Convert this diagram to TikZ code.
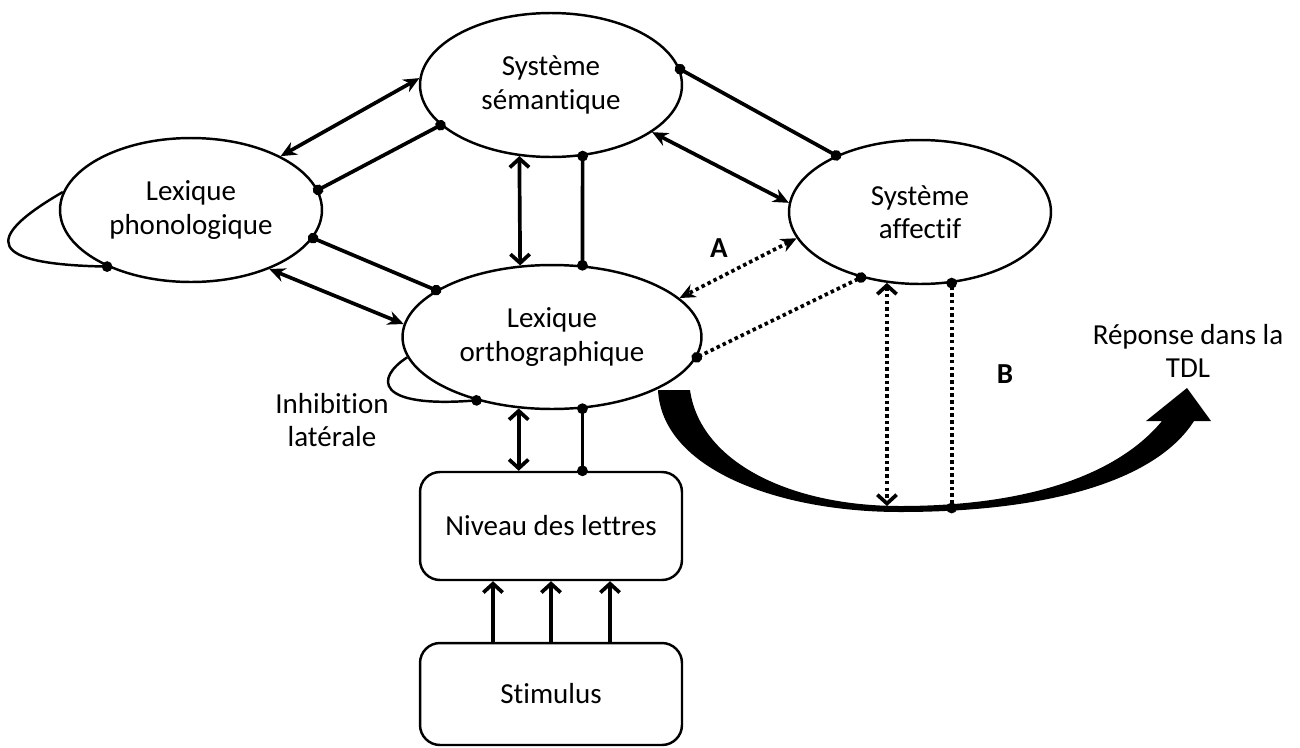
\documentclass[tikz,border=0pt]{standalone}
\usepackage{fontspec}
\setmainfont{Carlito}[Ligatures=NoCommon]
\usetikzlibrary{arrows.meta,shapes.geometric}
\tikzset{
  module/.style={ellipse,draw,line width=1.4pt,minimum width=5.24cm,minimum height=2.88cm,inner sep=0pt,align=center,font=\fontsize{16.5}{19}\selectfont},
  level/.style={rectangle,draw,rounded corners=0.4cm,line width=1.4pt,minimum width=5.24cm,align=center,font=\fontsize{16.5}{19}\selectfont},
  lab/.style={align=center,font=\fontsize{16.5}{19}\selectfont},
  excit/.style={line width=2.1pt,{Stealth[length=9pt,width=8pt]}-{Stealth[length=9pt,width=8pt]}},
  excitv/.style={line width=2.1pt,{Straight Barb[length=5pt,width=11pt]}-{Straight Barb[length=5pt,width=11pt]}},
  inhib/.style={line width=2.1pt,{Circle[length=6pt]}-{Circle[length=6pt]},shorten <=-3pt,shorten >=-3pt},
  loopinh/.style={line width=1.4pt,-{Circle[length=6pt]},shorten >=-3pt},
  dots/.style={dash pattern=on 2pt off 1.8pt}
}

\begin{document}
\begin{tikzpicture}[x=0.02cm,y=-0.02cm]
\useasboundingbox (0,0) rectangle (1300,747);
\node[module] (sem) at (551,85) {Système\\sémantique};
\node[module] (phono) at (191,210) {Lexique\\phonologique};
\node[module,minimum width=5.98cm] (ortho) at (552,337) {Lexique\\orthographique};
\node[module] (aff) at (920,212) {Système\\affectif};
\node[level,minimum height=2.16cm] (lettres) at (551,526) {Niveau des lettres};
\node[level,minimum height=2.04cm] (stim) at (551,694) {Stimulus};

\draw[excit] (phono.31.7) -- (sem.177);
\draw[inhib] (phono.9.75) -- (sem.200);
\draw[excit] (phono.323) -- (ortho.175.4);
\draw[inhib] (phono.347.1) -- (ortho.158.9);
\draw[excitv] (sem.246) -- (ortho.114.5);
\draw[inhib] (sem.294) -- (ortho.67);
\draw[excit] (sem.335) -- (aff.176);
\draw[inhib] (sem.7) -- (aff.146.3);
\draw[excit,dots] (aff.192.8) -- (ortho.17.6);
\draw[inhib,dots] (aff.228.3) -- (ortho.352.7);
\draw[excitv] (ortho.245.5) -- (ortho.245.5 |- lettres.north);
\draw[inhib] (ortho.293) -- (ortho.293 |- lettres.north);
\foreach \dx in {-58,0,59}
  \draw[line width=2.1pt,-{Straight Barb[length=5pt,width=11pt]}] ([xshift=\dx*0.02cm]stim.north) -- ([xshift=\dx*0.02cm]lettres.south);

\draw[loopinh] (phono.172.5) .. controls (-20,240) and (-10,264) .. (phono.214.2);
\draw[loopinh] (ortho.188.2) .. controls (375,378) and (375,408) .. (ortho.220.9);

\fill (658,390) .. controls (662,470) and (780,512) .. (900,512) .. controls (1045,512) and (1155,482) .. (1194,421)
  -- (1211,421) -- (1187,388) -- (1146,421) -- (1162,421)
  .. controls (1118,474) and (1030,506) .. (900,506) .. controls (790,506) and (700,462) .. (690,390) -- cycle;
\coordinate (bend1) at (888,506);
\coordinate (bend2) at (952,508);
\draw[excitv,dots] (aff.245.4) -- (aff.245.4 |- bend1);
\draw[inhib,dots] (aff.294.6) -- (aff.294.6 |- bend2);

\node[lab,font=\fontsize{16.5}{19}\selectfont\bfseries] (labA) at (719,248) {A};
\node[lab,font=\fontsize{16.5}{19}\selectfont\bfseries] (labB) at (1005,374) {B};
\node[lab] (resp) at (1188,351) {Réponse dans la\\TDL};
\node[lab] (inhlat) at (332,420) {Inhibition\\latérale};
\end{tikzpicture}
\end{document}
